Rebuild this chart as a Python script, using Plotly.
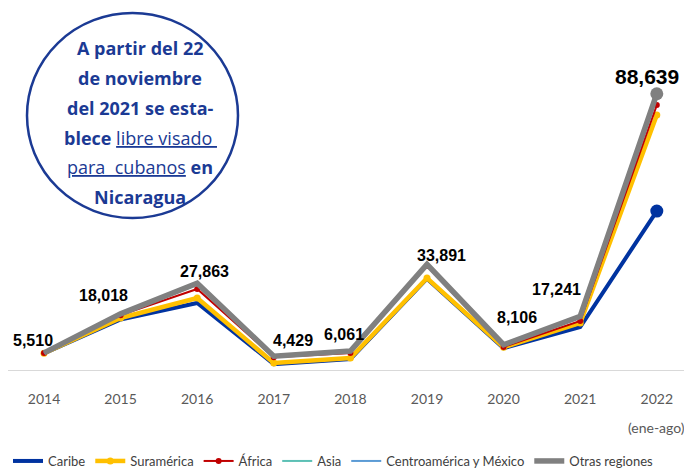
import plotly.graph_objects as go
import numpy as np

years = ["2014", "2015", "2016", "2017", "2018", "2019", "2020", "2021", "2022"]
totals = [5510, 18018, 27863, 4429, 6061, 33891, 8106, 17241, 88639]

caribe = [5300, 16200, 21500, 1900, 3500, 29300, 7000, 13800, 51000]
suramerica = [80, 500, 1600, 350, 350, 200, 300, 1300, 30800]
africa = [70, 900, 2900, 1850, 1600, 3900, 100, 600, 3200]
asia = [30, 250, 1300, 150, 350, 250, 350, 1200, 3000]
centroamerica = [10, 50, 200, 50, 50, 50, 50, 100, 200]
otras = [20, 118, 363, 129, 211, 191, 306, 241, 439]

series = [
    ("Caribe", caribe, "#0033A0", 4, None),
    ("Suramérica", suramerica, "#FFC000", 4.5, 7),
    ("África", africa, "#C00000", 2, 6),
    ("Asia", asia, "#5CC0B5", 2, None),
    ("Centroamérica y México", centroamerica, "#5B9BD5", 2, None),
    ("Otras regiones", otras, "#808080", 5.5, None),
]

# page body has an 8px margin: screen = figure + 8
OFF = 8
W, H = 692, 480
PLOT_L, PLOT_R = 0, 684          # figure px
PLOT_T, PLOT_B = 12, 362         # figure px
PW, PH = PLOT_R - PLOT_L, PLOT_B - PLOT_T
YMAX = 112300
STEP = 76.6
X0 = 44 - OFF                     # figure px of first category


def px(s):
    return (s - OFF - PLOT_L) / PW


def py(s):
    return (PLOT_B - (s - OFF)) / PH


fig = go.Figure()
cum = np.zeros(len(years))
for name, vals, color, width, msize in series:
    cum = cum + np.array(vals)
    if msize:
        fig.add_trace(go.Scatter(
            x=years, y=cum.tolist(), name=name, mode="lines+markers",
            line=dict(color=color, width=width),
            marker=dict(color=color, size=msize),
        ))
    else:
        fig.add_trace(go.Scatter(
            x=years, y=cum.tolist(), name=name, mode="lines",
            line=dict(color=color, width=width),
        ))
    if name in ("Caribe", "Otras regiones"):
        fig.add_trace(go.Scatter(
            x=[years[-1]], y=[cum[-1]], mode="markers", showlegend=False,
            marker=dict(color=color, size=13), hoverinfo="skip",
        ))

# data labels for totals
shifts = [(-11, 12), (-17, 18), (7, 12), (19, 16), (-6, 17), (14, 9), (13, 27), (-24, 27), (-10, 17)]
for i, v in enumerate(totals):
    big = i == len(years) - 1
    fig.add_annotation(
        x=i, y=v, xref="x", yref="y", text=f"<b>{v:,}</b>", showarrow=False,
        xshift=shifts[i][0], yshift=shifts[i][1],
        font=dict(family="Liberation Sans", size=21 if big else 16, color="#000000"),
    )

# (ene-ago)
fig.add_annotation(
    x=len(years) - 1, xref="x", y=py(427), yref="paper", text="(ene-ago)", showarrow=False,
    font=dict(family="Lato", size=14, color="#595959"), yanchor="middle",
)

# circle callout
blue = "#1B3A94"
fig.add_shape(type="circle", xref="paper", yref="paper",
              x0=px(27), x1=px(238), y0=py(218), y1=py(13),
              line=dict(color=blue, width=2.5), fillcolor="rgba(255,255,255,0)")
lines = [
    "<b>A partir del 22</b>",
    "<b>de noviembre</b>",
    "<b>del 2021 se esta-</b>",
    "<b>blece</b> <u>libre visado </u>",
    "<u>para  cubanos</u> <b>en</b>",
    "<b>Nicaragua</b>",
]
ys = [48, 78, 108, 138, 167, 197]
for t, yy in zip(lines, ys):
    fig.add_annotation(x=px(140), y=py(yy), xref="paper", yref="paper", text=t,
                       showarrow=False, xanchor="center", yanchor="middle",
                       font=dict(family="Open Sans", size=18, color=blue))

fig.update_layout(
    width=W, height=H,
    margin=dict(l=PLOT_L, r=W - PLOT_R, t=PLOT_T, b=H - PLOT_B, pad=0),
    plot_bgcolor="white", paper_bgcolor="white",
    showlegend=True,
    legend=dict(orientation="h", x=px(8), xanchor="left", y=py(461), yanchor="middle",
                font=dict(family="Lato", size=13, color="#404040"),
                itemwidth=30, bgcolor="rgba(0,0,0,0)"),
    xaxis=dict(type="category", range=[-X0 / STEP, (PW - X0) / STEP],
               showgrid=False, zeroline=False,
               showline=True, linecolor="#D9D9D9", linewidth=1, ticks="",
               tickfont=dict(family="Lato", size=14, color="#595959"),
               ticklabelstandoff=16, fixedrange=True),
    yaxis=dict(range=[0, YMAX], showgrid=False, zeroline=False, showticklabels=False,
               showline=False, fixedrange=True),
)

fig.write_html("out.html")
